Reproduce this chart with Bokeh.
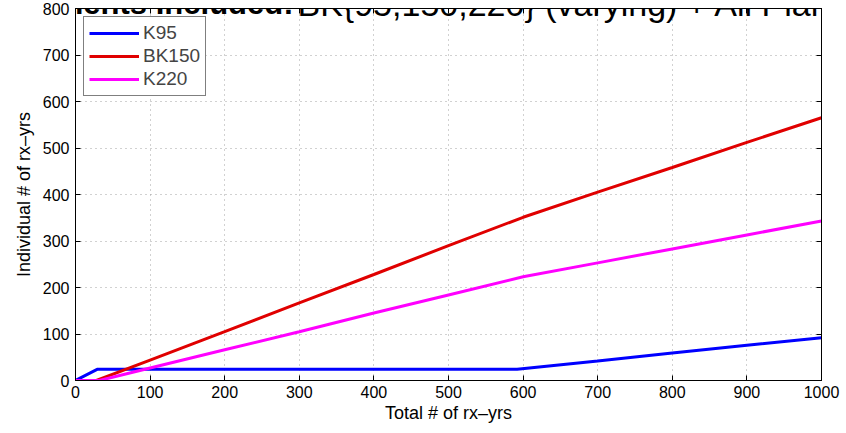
from bokeh.plotting import figure
from bokeh.models import ColumnDataSource, Label, LinearAxis, FixedTicker, Range1d, Legend, LegendItem
from bokeh.embed import file_html
from bokeh.resources import INLINE

# ---- data ----
x_ticks = [0, 100, 200, 300, 400, 500, 600, 700, 800, 900, 1000]
y_ticks = [0, 100, 200, 300, 400, 500, 600, 700, 800]

k95_x = [0, 29, 100, 200, 300, 400, 500, 592, 700, 800, 900, 1000]
k95_y = [0, 24, 24, 24, 24, 24, 24, 24, 42, 59, 76, 92]

bk150_x = [0, 28, 100, 200, 300, 400, 500, 600, 700, 800, 900, 1000]
bk150_y = [0, 0, 44, 105, 167, 228, 290, 351, 405, 458, 512, 565]

k220_x = [0, 32, 100, 200, 300, 400, 500, 600, 700, 800, 900, 1000]
k220_y = [0, 0, 27, 66, 105, 145, 184, 223, 253, 283, 313, 343]

series_names = ["K95", "BK150", "K220"]
series_colors = ["#0000ff", "#e00000", "#ff00ff"]

title_bold = "Experiments Included:"
title_rest = "BK{95,150,220} (varying) + All Planck"
x_label = "Total # of rx\u2013yrs"
y_label = "Individual # of rx\u2013yrs"

FONT = "Liberation Sans"

p = figure(width=846, height=433, output_backend="svg", toolbar_location=None,
           x_range=Range1d(0, 1000), y_range=Range1d(0, 800),
           min_border_left=75, min_border_right=25, min_border_top=8, min_border_bottom=53)
p.background_fill_color = "white"
p.border_fill_color = "white"
p.outline_line_color = "black"
p.outline_line_width = 1
p.outline_line_alpha = 1

xt = FixedTicker(ticks=x_ticks)
yt = FixedTicker(ticks=y_ticks)

for ax, t in ((p.xaxis[0], xt), (p.yaxis[0], yt)):
    ax.ticker = t
    ax.major_tick_in = 5
    ax.major_tick_out = 0
    ax.minor_tick_line_color = None
    ax.axis_line_color = "black"
    ax.major_tick_line_color = "black"
    ax.major_label_text_font = FONT
    ax.major_label_text_font_size = "16px"
    ax.major_label_text_color = "black"
    ax.axis_label_text_font = FONT
    ax.axis_label_text_font_size = "18px"
    ax.axis_label_text_font_style = "normal"
    ax.axis_label_text_color = "black"

p.xaxis[0].axis_label = x_label
p.yaxis[0].axis_label = y_label
p.xaxis[0].major_label_standoff = 5
p.yaxis[0].major_label_standoff = 6
p.xaxis[0].axis_label_standoff = 2
p.yaxis[0].axis_label_standoff = 6

for loc, t in (("above", xt), ("right", yt)):
    a = LinearAxis(ticker=t, major_tick_in=5, major_tick_out=0,
                   minor_tick_line_color=None, major_label_text_font_size="1px",
                   major_label_text_color=None,
                   major_label_standoff=0, axis_line_color="black")
    p.add_layout(a, loc)

p.xgrid.ticker = xt
p.ygrid.ticker = yt
for g in (p.xgrid[0], p.ygrid[0]):
    g.grid_line_color = "#999999"
    g.grid_line_dash = "1 4"
    g.grid_line_width = 1
    g.grid_line_alpha = 0.9

items = []
for name, color, xs, ys in zip(series_names, series_colors,
                               [k95_x, bk150_x, k220_x], [k95_y, bk150_y, k220_y]):
    src = ColumnDataSource(dict(x=xs, y=ys))
    r = p.line("x", "y", source=src, line_color=color, line_width=3)
    items.append(LegendItem(label=name, renderers=[r]))

legend = Legend(items=items, location="top_left", margin=8, padding=5,
                spacing=1, glyph_width=50, glyph_height=22, label_height=22,
                label_standoff=4, label_text_font=FONT, label_text_font_size="19px",
                border_line_color="black", border_line_width=1, background_fill_alpha=1)
p.add_layout(legend)

p.add_layout(Label(x=218, y=377, x_units="screen", y_units="screen", text=title_bold,
                   text_font=FONT, text_font_size="31px", text_font_style="bold",
                   text_align="right", text_baseline="alphabetic", text_color="black"))
p.add_layout(Label(x=222, y=377, x_units="screen", y_units="screen", text=title_rest,
                   text_font=FONT, text_font_size="34px", text_font_style="normal",
                   text_align="left", text_baseline="alphabetic", text_color="black"))

open("out.html", "w").write(file_html(p, INLINE))
